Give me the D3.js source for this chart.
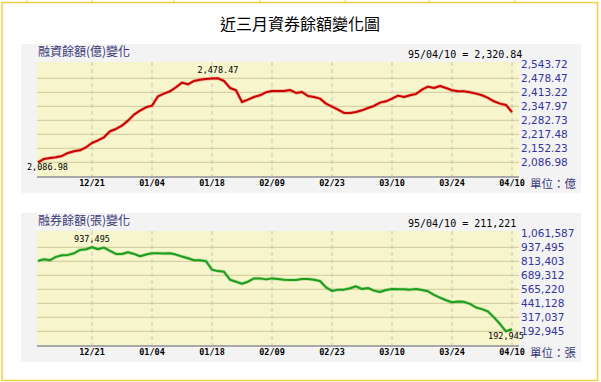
<!DOCTYPE html>
<html>
<head>
<meta charset="utf-8">
<script src="https://cdn.jsdelivr.net/npm/d3@7/dist/d3.min.js"></script>
<style>
  html, body { margin: 0; padding: 0; background: #fff; }
  svg { display: block; }
</style>
</head>
<body>
<svg id="chart" width="601" height="382"></svg>
<script>
// x axis: trading day index -> date label
var dateLabels = ["12/21", "01/04", "01/18", "02/09", "02/23", "03/10", "03/24", "04/10"];
var dateIndex = [9, 19, 29, 39, 49, 59, 69, 79];

// 融資餘額 (億), one value per trading day
var marginVals = [
  2086.98, 2102.5, 2107.2, 2110.3, 2116.5, 2130.5, 2138.2, 2142.9, 2156.9, 2177.1,
  2189.5, 2203.5, 2231.5, 2242.3, 2257.9, 2281.2, 2309.2, 2327.8, 2343.3, 2351.1,
  2394.6, 2407.0, 2417.9, 2436.6, 2458.3, 2450.5, 2466.1, 2472.0, 2475.0, 2477.0,
  2478.47, 2466.0, 2433.4, 2422.6, 2368.2, 2379.1, 2391.5, 2399.3, 2413.2, 2419.5,
  2419.5, 2419.5, 2424.1, 2410.1, 2414.8, 2396.1, 2391.5, 2383.7, 2360.4, 2346.4,
  2332.4, 2316.9, 2316.9, 2321.6, 2329.3, 2340.2, 2349.5, 2365.1, 2371.3, 2383.7,
  2397.7, 2391.5, 2399.3, 2405.5, 2425.7, 2439.6, 2433.4, 2442.8, 2433.4, 2422.6,
  2417.9, 2417.9, 2413.2, 2407.0, 2399.3, 2386.9, 2371.3, 2360.4, 2354.2, 2320.84
];

// 融券餘額 (張)
var shortVals = [
  817312, 831968, 823175, 852488, 867144, 870075, 884732, 914045, 919907, 937495,
  919907, 934564, 905251, 878869, 878869, 893526, 878869, 858350, 873007, 884732,
  884732, 881801, 884732, 873007, 855419, 840762, 823175, 823175, 814381, 738167,
  726442, 720579, 650228, 632640, 615052, 632640, 661953, 661953, 653159, 661953,
  656090, 650228, 647297, 647297, 656090, 656090, 650228, 638503, 582808, 550564,
  562289, 562289, 574014, 591602, 568151, 576945, 553495, 541770, 559358, 568151,
  565220, 565220, 562289, 568151, 559358, 547632, 515388, 491938, 468487, 450899,
  456762, 453831, 436243, 403999, 389342, 368823, 316060, 257434, 192945, 211221
];

// right hand tick labels, bottom to top
var marginTicks = [2086.98, 2152.23, 2217.48, 2282.73, 2347.97, 2413.22, 2478.47, 2543.72];
var shortTicks = [192945, 317037, 441128, 565220, 689312, 813403, 937495, 1061587];

var svg = d3.select("#chart");
var gold = "#f0d040";

// outer frame
svg.append("rect")
  .attr("x", 2).attr("y", 2.5)
  .attr("width", 595.5).attr("height", 378)
  .attr("fill", "none")
  .attr("stroke", gold)
  .attr("stroke-width", 1.5);
[27, 92, 174, 260, 345, 429, 515].forEach(function (tx) {
  svg.append("line")
    .attr("x1", tx).attr("x2", tx).attr("y1", 0).attr("y2", 2.5)
    .attr("stroke", gold).attr("stroke-width", 1);
});

svg.append("text")
  .attr("x", 300).attr("y", 30)
  .attr("text-anchor", "middle")
  .attr("font-family", "'Noto Sans CJK TC', 'Noto Sans CJK SC', sans-serif")
  .attr("font-size", 16)
  .attr("fill", "#000")
  .text("近三月資券餘額變化圖");

var x = d3.scaleLinear().domain([0, marginVals.length - 1]).range([38, 512]);

function drawPanel(top, opt) {
  var g = svg.append("g").attr("transform", "translate(0," + top + ")");
  var ticks = opt.ticks;
  var step = ticks[1] - ticks[0];
  // 14px per tick step, top label sits on the plot top
  var y = d3.scaleLinear()
    .domain([ticks[0] - step, ticks[ticks.length - 1]])
    .range([132.3, 20.3]);

  g.append("rect")
    .attr("x", 21).attr("y", 0).attr("width", 560).attr("height", 149)
    .attr("fill", "#f3f3f3");
  g.append("rect")
    .attr("x", 37).attr("y", 18).attr("width", 482).attr("height", 115)
    .attr("fill", "#f7f5cc");

  g.append("text")
    .attr("x", 38).attr("y", 12)
    .attr("font-family", "'Noto Sans CJK TC', sans-serif")
    .attr("font-size", 12)
    .attr("fill", "#3a3a78")
    .text(opt.title);

  g.append("text")
    .attr("x", 408).attr("y", 14)
    .attr("font-family", "'DejaVu Sans Mono', monospace")
    .attr("font-size", 10)
    .attr("fill", "#000")
    .text("95/04/10 = " + opt.fmt(opt.values[opt.values.length - 1]));

  // horizontal grid
  g.selectAll(".hgrid")
    .data(ticks.slice(0, ticks.length - 1))
    .enter().append("line")
    .attr("x1", 37).attr("x2", 519)
    .attr("y1", function (d) { return y(d); })
    .attr("y2", function (d) { return y(d); })
    .attr("stroke", "#d6d2a2")
    .attr("stroke-width", 1.2);

  // vertical dashed grid
  g.selectAll(".vgrid")
    .data(dateIndex)
    .enter().append("line")
    .attr("x1", function (d) { return x(d); })
    .attr("x2", function (d) { return x(d); })
    .attr("y1", 18).attr("y2", 135)
    .attr("stroke", "#c4c4c4")
    .attr("stroke-dasharray", "4,3");

  g.append("line")
    .attr("x1", 37).attr("x2", 519).attr("y1", 133).attr("y2", 133)
    .attr("stroke", "#a8a8a8").attr("stroke-width", 2);

  g.selectAll(".date")
    .data(dateIndex)
    .enter().append("text")
    .attr("x", function (d) { return x(d); })
    .attr("y", 142)
    .attr("text-anchor", "middle")
    .attr("font-family", "'DejaVu Sans Mono', monospace")
    .attr("font-size", 8.5)
    .attr("font-weight", "bold")
    .attr("fill", "#000")
    .text(function (d, i) { return dateLabels[i]; });

  g.selectAll(".ylab")
    .data(ticks)
    .enter().append("text")
    .attr("x", 521)
    .attr("y", function (d) { return y(d) + 4; })
    .attr("font-family", "'DejaVu Sans', sans-serif")
    .attr("font-size", 10.5)
    .attr("fill", "#34349c")
    .text(function (d) { return opt.fmt(d); });

  g.append("text")
    .attr("x", 530).attr("y", 144)
    .attr("font-family", "'Noto Sans CJK TC', sans-serif")
    .attr("font-size", 11.5)
    .attr("fill", "#3a3a78")
    .text(opt.unit);

  var line = d3.line()
    .x(function (d, i) { return x(i); })
    .y(function (d) { return y(d); });

  g.append("path")
    .datum(opt.values)
    .attr("fill", "none")
    .attr("stroke", opt.color)
    .attr("stroke-opacity", 0.25)
    .attr("stroke-width", 3.5)
    .attr("d", line);
  g.append("path")
    .datum(opt.values)
    .attr("fill", "none")
    .attr("stroke", opt.color)
    .attr("stroke-width", 2)
    .attr("stroke-linejoin", "round")
    .attr("d", line);

  // max / min markers
  var maxI = d3.maxIndex(opt.values), minI = d3.minIndex(opt.values);
  [[maxI, -5], [minI, 8]].forEach(function (m) {
    var v = opt.values[m[0]];
    var t = g.append("text")
      .attr("y", y(v) + m[1])
      .attr("text-anchor", "middle")
      .attr("font-family", "'DejaVu Sans Mono', monospace")
      .attr("font-size", 8.5)
      .attr("fill", "#000")
      .text(opt.fmt(v));
    var w = t.node().getComputedTextLength();
    t.attr("x", Math.max(x(m[0]), 27 + w / 2));
  });
}

drawPanel(44, {
  title: "融資餘額(億)變化",
  unit: "單位：億",
  values: marginVals,
  ticks: marginTicks,
  color: "#cc0000",
  fmt: d3.format(",.2f")
});

drawPanel(213, {
  title: "融券餘額(張)變化",
  unit: "單位：張",
  values: shortVals,
  ticks: shortTicks,
  color: "#1c9e1c",
  fmt: d3.format(",d")
});
</script>
</body>
</html>
